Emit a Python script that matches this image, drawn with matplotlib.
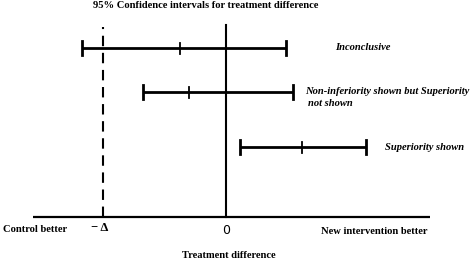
import numpy as np
import matplotlib
matplotlib.use("Agg")
import matplotlib.pyplot as plt

plt.rcParams["font.family"] = ["Liberation Serif", "DejaVu Serif"]

# treatment difference scale: 0 = no difference, -1 = -Delta (non-inferiority margin)
margin = -1.0
lower = [-1.17, -0.68, 0.11]
estimate = [-0.38, -0.30, 0.61]
upper = [0.48, 0.54, 1.13]
labels = ["Inconclusive",
          "Non-inferiority shown but Superiority",
          "Superiority shown"]

# layout (vertical positions in px-like units above the axis line)
rows = [169, 125, 70]
scale = 123.5  # px per unit on x
fs = 7.6

fig = plt.figure(figsize=(4.72, 2.62), dpi=100)
ax = fig.add_axes([0, 0, 1, 1])
ax.set_xlim(-226.5 / scale, (472 - 226.5) / scale)
ax.set_ylim(-45, 217)
ax.axis("off")

# horizontal axis
ax.plot([-1.57, 1.65], [0, 0], color="black", lw=1.6, solid_capstyle="butt")
# zero line and margin line
ax.plot([0, 0], [0, 192], color="black", lw=1.5)
ax.plot([margin, margin], [0, 190], color="black", lw=1.5, dashes=(5, 3.2))

for y, lo, est, hi in zip(rows, lower, estimate, upper):
    ax.plot([lo, hi], [y, y], color="black", lw=2.0, solid_capstyle="butt")
    ax.plot([lo, lo], [y - 7, y + 7], color="black", lw=2.0)
    ax.plot([hi, hi], [y - 7, y + 7], color="black", lw=2.0)
    ax.plot([est, est], [y - 5.5, y + 5.5], color="black", lw=1.3)

ax.text(0.88, rows[0], labels[0], ha="left", va="center", fontsize=fs,
        fontweight="bold", style="italic")
ax.text(0.635, rows[1] + 1, labels[1], ha="left",
        va="center", fontsize=fs, fontweight="bold", style="italic")
ax.text(0.66, rows[1] - 12, "not shown", ha="left", va="center", fontsize=fs,
        fontweight="bold", style="italic")
ax.text(1.28, rows[2], labels[2], ha="left", va="center", fontsize=fs,
        fontweight="bold", style="italic")

ax.text(-0.17, 212, "95% Confidence intervals for treatment difference",
        ha="center", va="center", fontsize=fs, fontweight="bold")
ax.text(-1.81, -13, "Control better", ha="left", va="center", fontsize=fs,
        fontweight="bold")
ax.text(margin - 0.03, -11, "\u2212 \u0394", ha="center", va="center",
        fontsize=9, fontweight="bold")
ax.text(0, -14, "0", ha="center", va="center", fontsize=9,
        family="DejaVu Sans")
ax.text(1.63, -14, "New intervention better", ha="right", va="center",
        fontsize=fs, fontweight="bold")
ax.text(0.02, -39, "Treatment difference", ha="center", va="center",
        fontsize=fs, fontweight="bold")

fig.savefig("out.png", dpi=100)
